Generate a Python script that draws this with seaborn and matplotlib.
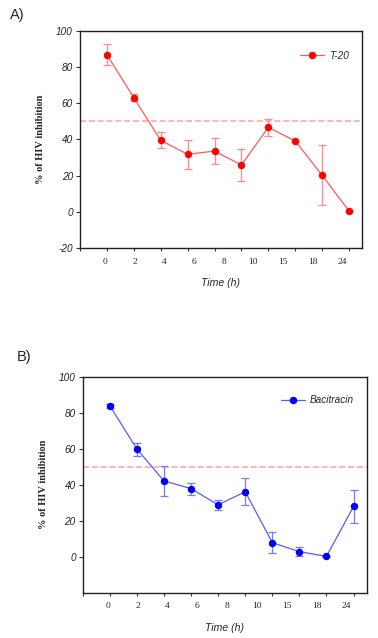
import numpy as np
import matplotlib
matplotlib.use('Agg')
import matplotlib.pyplot as plt
import seaborn as sns
import pandas as pd

# time points (h) used for the categorical x axis
time_points = ['0', '2', '4', '6', '8', '10', '12', '15', '18', '24']
tick_labels = ['0', '2', '4', '6', '8', '10', '15', '18', '24']

# T-20: mean % of HIV inhibition and error
t20_mean = [86.9, 63.1, 39.5, 31.8, 33.6, 25.9, 46.7, 39.2, 20.2, 0.4]
t20_err = [5.9, 1.8, 4.4, 8.1, 7.4, 8.6, 4.8, 0.5, 16.6, 0.5]

# Bacitracin: mean % of HIV inhibition and error
baci_mean = [83.9, 59.8, 42.1, 37.8, 28.8, 36.1, 7.8, 2.8, 0.2, 27.9]
baci_err = [1.1, 3.6, 8.5, 3.3, 2.6, 7.4, 6.0, 2.4, 0.4, 9.1]

threshold = 50

sns.set_style('white')
plt.rcParams['font.family'] = ['Liberation Sans', 'DejaVu Sans']

fig = plt.figure(figsize=(3.78, 6.38), dpi=100)
ax_a = fig.add_axes([0.2116, 0.6113, 0.746, 0.3401])
ax_b = fig.add_axes([0.2188, 0.0710, 0.751, 0.3386])


def draw_panel(ax, means, errs, name, line_col, mark_col, err_col, yticks, leg_pos):
    df = pd.DataFrame({'idx': np.arange(len(time_points)), 'val': means})
    ax.errorbar(df['idx'], df['val'], yerr=errs, fmt='none', ecolor=err_col,
                elinewidth=0.9, capsize=2.6, capthick=0.9, zorder=2)
    sns.lineplot(data=df, x='idx', y='val', ax=ax, color=line_col, lw=0.9,
                 marker='o', markersize=4.6, markerfacecolor=mark_col,
                 markeredgecolor=mark_col, label=name, zorder=3)
    ax.axhline(threshold, color='#ffaaaa', lw=1.2, ls=(0, (3.6, 1.7)), zorder=1)

    ax.set_xlim(-1, 9.48)
    ax.set_ylim(-20, 100)
    ax.set_xticks(np.arange(-1, 10))
    ax.set_xticklabels([])
    ax.set_xticks(np.linspace(-0.07, 8.75, len(tick_labels)), minor=True)
    ax.set_xticklabels(tick_labels, minor=True, family='Liberation Serif', fontsize=6.8)
    ax.tick_params(axis='x', which='major', direction='out', length=2.5, width=0.8,
                   bottom=True, color='#333333')
    ax.tick_params(axis='x', which='minor', length=0, pad=7)
    ax.set_yticks(yticks)
    ax.set_yticklabels([str(v) for v in yticks], style='italic', fontsize=7.2,
                       color='#222222')
    ax.tick_params(axis='y', direction='out', length=3, width=0.8, left=True,
                   pad=2, color='#333333')
    for s in ax.spines.values():
        s.set_color('#222222')
        s.set_linewidth(1.0)

    ax.set_xlabel('Time (h)', style='italic', fontsize=7.6, labelpad=9)
    ax.set_ylabel('% of HIV inhibition', family='Liberation Serif', weight='bold',
                  fontsize=7.5, labelpad=8)

    leg = ax.legend(loc='center right', bbox_to_anchor=leg_pos, frameon=False,
                    borderpad=0, borderaxespad=0, handlelength=2.4,
                    handletextpad=0.5, fontsize=7.2)
    for t in leg.get_texts():
        t.set_style('italic')


draw_panel(ax_a, t20_mean, t20_err, 'T-20', '#ff5a5a', '#ff0000', '#ff8888',
           [-20, 0, 20, 40, 60, 80, 100], (0.955, 0.887))
draw_panel(ax_b, baci_mean, baci_err, 'Bacitracin', '#5a5aff', '#0000ee', '#7777ff',
           [0, 20, 40, 60, 80, 100], (0.955, 0.892))

fig.text(0.027, 0.976, 'A)', fontsize=10.5, va='center', ha='left')
fig.text(0.045, 0.441, 'B)', fontsize=10.5, va='center', ha='left')

fig.savefig('out.png', dpi=100)
